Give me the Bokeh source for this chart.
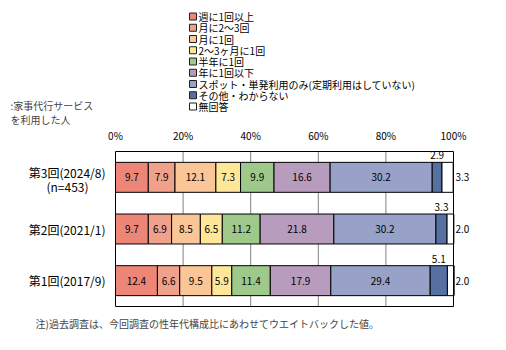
import numpy as np
from bokeh.plotting import figure
from bokeh.models import ColumnDataSource, Range1d, Label
from bokeh.core.properties import value
from bokeh.embed import file_html
from bokeh.resources import INLINE

FONT = "Noto Sans CJK JP"

# ---- data ----
categories = ["第1回(2017/9)", "第2回(2021/1)", "第3回(2024/8)"]  # bottom -> top
sample_note = {"第3回(2024/8)": "(n=453)"}
series_names = ["週に1回以上", "月に2～3回", "月に1回", "2～3ヶ月に1回", "半年に1回",
                "年に1回以下", "スポット・単発利用のみ(定期利用はしていない)",
                "その他・わからない", "無回答"]
weekly      = [12.4, 9.7, 9.7]
twice_month = [6.6, 6.9, 7.9]
monthly     = [9.5, 8.5, 12.1]
bimonthly   = [5.9, 6.5, 7.3]
half_year   = [11.4, 11.2, 9.9]
yearly      = [17.9, 21.8, 16.6]
spot        = [29.4, 30.2, 30.2]
other       = [5.1, 3.3, 2.9]
no_answer   = [2.0, 2.0, 3.3]
series_values = [weekly, twice_month, monthly, bimonthly, half_year,
                 yearly, spot, other, no_answer]
colors = ["#EE8678", "#F0A18B", "#FAC597", "#FEE799", "#9EC98A",
          "#B89CBE", "#98A2C8", "#5670A2", "#FFFFFF"]
x_ticks = [0, 20, 40, 60, 80, 100]
x_tick_labels = ["0%", "20%", "40%", "60%", "80%", "100%"]
grid_ticks = [20, 40, 60, 80]
axis_note = ["家事代行サービス", "を利用した人"]
footnote = "注)過去調査は、今回調査の性年代構成比にあわせてウエイトバックした値。"

W, H = 506, 350
PX_PER_PCT = 3.38            # 0..100% spans 338 px
LEFT_PX = 115
BAND_PX = 155 / 3.0
TOP_PX, BOTTOM_PX = 151, 306

ypos = list(range(len(categories)))  # category index positions
keys = [f"s{i}" for i in range(len(series_names))]
data = {"y": ypos}
for k, v in zip(keys, series_values):
    data[k] = v
source = ColumnDataSource(data)

y_lo, y_hi = -0.5, len(categories) - 0.5
p = figure(width=W, height=H, output_backend="svg", toolbar_location=None,
           x_range=Range1d(-LEFT_PX / PX_PER_PCT, (W - LEFT_PX) / PX_PER_PCT),
           y_range=Range1d(y_lo - (H - BOTTOM_PX) / BAND_PX, y_hi + TOP_PX / BAND_PX),
           x_axis_location=None, y_axis_location=None,
           min_border=0)
p.outline_line_color = None
p.grid.visible = False
p.background_fill_color = "white"
p.border_fill_color = "white"

def px_x(px):
    return (px - LEFT_PX) / PX_PER_PCT

def px_y(py):
    return y_hi + (TOP_PX - py) / BAND_PX

# grid lines
p.segment(x0=grid_ticks, x1=grid_ticks, y0=[y_lo] * 4, y1=[y_hi] * 4,
          line_color="#808080", line_width=1)

p.hbar_stack(keys, y="y", height=0.58, color=colors,
             line_color="black", line_width=1, source=source)

# ---- value labels ----
vals = np.array(series_values)
cum = np.cumsum(vals, axis=0)
mid = cum - vals / 2.0
in_x, in_y, in_t = [], [], []
for i in range(7):
    for j in ypos:
        in_x.append(mid[i, j]); in_y.append(j); in_t.append(f"{vals[i, j]:.1f}")
p.text(x=in_x, y=in_y, text=in_t, text_align="center", text_baseline="middle",
       text_font=value(FONT), text_font_size="10px", text_color="black")
p.text(x=list(mid[7]), y=ypos, text=[f"{v:.1f}" for v in other],
       text_align="center", text_baseline="middle", y_offset=-22,
       text_font=value(FONT), text_font_size="10px", text_color="black")
p.text(x=[100] * 3, y=ypos, text=[f"{v:.1f}" for v in no_answer],
       text_align="left", text_baseline="middle", x_offset=2,
       text_font=value(FONT), text_font_size="10px", text_color="black")

# plot box
p.quad(left=[0], right=[100], bottom=[y_lo], top=[y_hi], fill_color=None,
       line_color="black", line_width=1)

# ---- tick labels (top) ----
p.text(x=x_ticks, y=[y_hi] * len(x_ticks), text=x_tick_labels,
       text_align="center", text_baseline="middle", y_offset=-16,
       text_font=value(FONT), text_font_size="10px", text_color="black")

# ---- category labels ----
cat_offsets = [-5 if c in sample_note else 0 for c in categories]
p.text(x=[0] * 3, y=ypos, text=categories, text_align="right",
       text_baseline="middle", x_offset=-10, y_offset=cat_offsets,
       text_font=value(FONT), text_font_size="12px", text_color="black")
note_y = [j for j, c in zip(ypos, categories) if c in sample_note]
note_t = [sample_note[c] for c in categories if c in sample_note]
p.text(x=[0] * len(note_y), y=note_y, text=note_t, text_align="center",
       text_baseline="middle", x_offset=-48, y_offset=9,
       text_font=value(FONT), text_font_size="12px", text_color="black")

# ---- legend (drawn manually for exact row spacing) ----
n = len(series_names)
leg_y = [px_y(16 + 11.25 * i) for i in range(n)]
p.rect(x=[px_x(192.5)] * n, y=leg_y, width=7, height=7,
       width_units="screen", height_units="screen",
       fill_color=colors, line_color="#202020", line_width=1)
p.text(x=[px_x(198)] * n, y=leg_y, text=series_names, text_align="left",
       text_baseline="middle", text_font=value(FONT), text_font_size="10px",
       text_color="black")

# ---- free texts ----
p.add_layout(Label(x=10, y=H - 105, x_units="screen", y_units="screen",
                   text=":" + axis_note[0], text_font=FONT, text_font_size="10px",
                   text_baseline="middle"))
p.add_layout(Label(x=10, y=H - 119, x_units="screen", y_units="screen",
                   text=axis_note[1], text_font=FONT, text_font_size="10px",
                   text_baseline="middle"))
p.add_layout(Label(x=35, y=H - 323, x_units="screen", y_units="screen",
                   text=footnote, text_font=FONT, text_font_size="10px",
                   text_baseline="middle"))

open("out.html", "w").write(file_html(p, INLINE))
